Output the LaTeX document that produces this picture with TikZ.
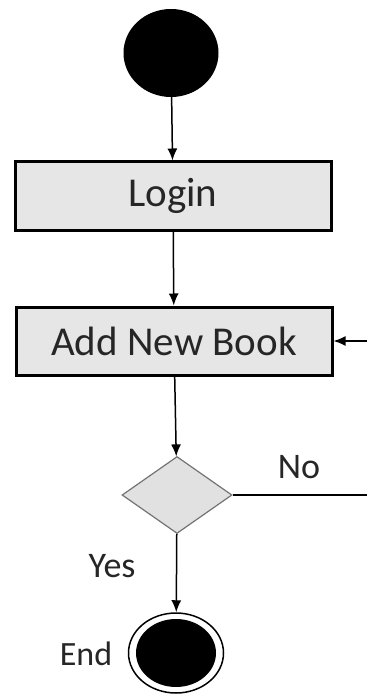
\documentclass[tikz,border=0pt]{standalone}
\usepackage{fontspec}
\setmainfont{Carlito}
\usepackage{tikz}
\usetikzlibrary{arrows.meta,shapes.geometric,positioning}
\definecolor{boxgray}{HTML}{E6E6E6}
\definecolor{diagray}{HTML}{E1E1E1}
\tikzstyle{action}=[rectangle, draw, line width=3pt, fill=boxgray, minimum width=316pt, minimum height=68pt, inner sep=0pt, font=\fontsize{41}{49}\selectfont, text=black!85]
\tikzstyle{decision}=[diamond, draw=black!55, line width=1.2pt, fill=diagray, minimum width=110pt, minimum height=77pt, inner sep=0pt]
\tikzstyle{label}=[font=\fontsize{36}{43}\selectfont, text=black!85, inner sep=0pt]
\tikzstyle{flow}=[line width=1.5pt, -{Latex[length=12pt,width=10pt]}]
\newcommand{\actnode}{\node[action]}

\begin{document}
\begin{tikzpicture}[x=1pt, y=-1pt]
            \useasboundingbox (0,0) rectangle (367,695);
            \node[ellipse, fill=black, minimum width=95pt, minimum height=88pt] (start) at (171,53) {};
            \actnode (login) at (173,196) {Login};
            \actnode (addbook) at (174,341) {Add New Book};
            \node[decision] (check) at (177,495) {};
            \node[ellipse, draw, line width=1.5pt, fill=white, minimum width=95pt, minimum height=80pt] (endring) at (176,653) {};
            \node[ellipse, fill=black, minimum width=80pt, minimum height=68pt] (end) at (176,653) {};
            \coordinate (noend) at (367,495);
            \coordinate (back) at (367,341);
            
            \node[label] (no) at (299,467) {No};
            \node[label] (yes) at (112,566) {Yes};
            \node[label, font=\fontsize{34}{41}\selectfont] (endtext) at (86,654) {End};
            
            \path[flow]
            (start) edge (login)
            (login) edge (addbook)
            (addbook) edge (check)
            (check) edge (endring)
            (back) edge (addbook)
            ;
            \draw[line width=1.8pt] (check.east) -- (noend);
        \end{tikzpicture}
\end{document}
